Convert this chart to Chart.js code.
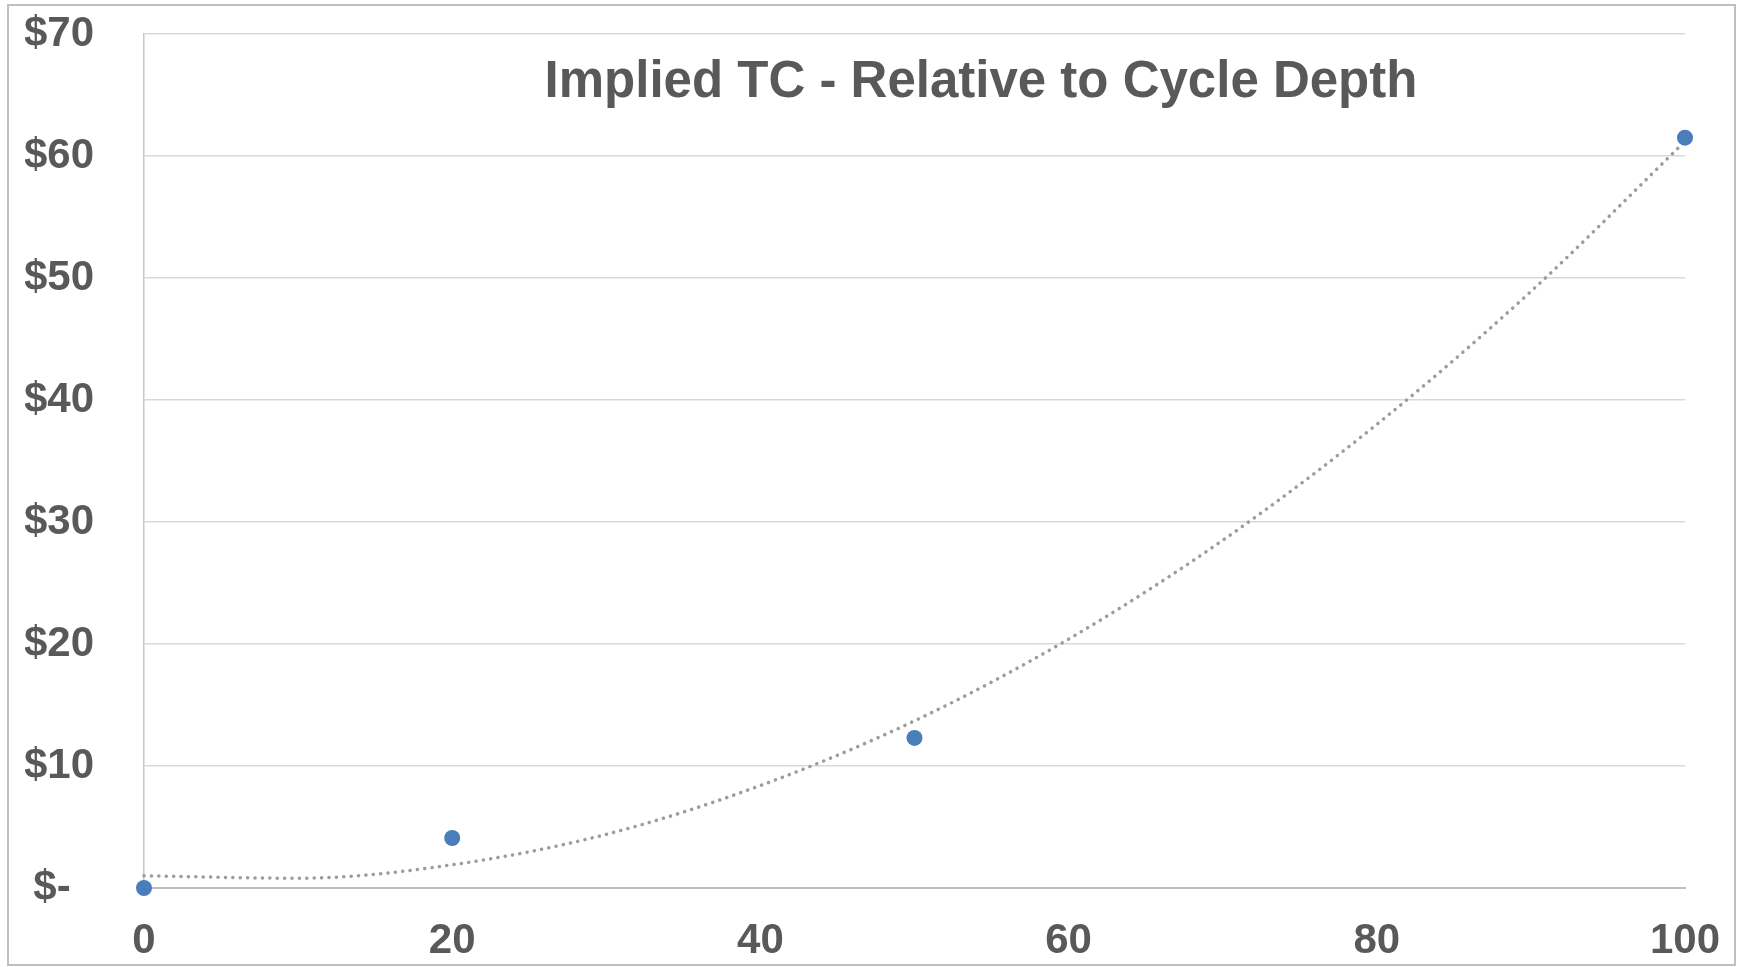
<!DOCTYPE html>
<html>
<head>
<meta charset="utf-8">
<script src="https://cdn.jsdelivr.net/npm/chart.js@4/dist/chart.umd.min.js"></script>
<style>
  html, body { margin: 0; padding: 0; background: #ffffff; }
  canvas { display: block; }
</style>
</head>
<body>
<canvas id="myChart" width="1742" height="967"></canvas>
<script>
// Datos
var profundidad = [0, 20, 50, 100];          // cycle depth
var tcImplicito = [0, 4.1, 12.3, 61.5];      // implied TC ($)

// linea de tendencia (punteada)
var tendenciaX = [0, 10, 20, 30, 40, 50, 60, 70, 80, 90, 100];
var tendenciaY = [1.0, 0.8, 1.9, 4.4, 8.4, 13.7, 20.4, 28.5, 38.0, 48.9, 61.2];

var ticksX = [0, 20, 40, 60, 80, 100];
var ticksY = [0, 10, 20, 30, 40, 50, 60, 70];

var titulo = 'Implied TC - Relative to Cycle Depth';
var gris = '#595959';
var fuente = "'Liberation Sans', Arial, sans-serif";

var puntos = profundidad.map((x, i) => ({ x: x, y: tcImplicito[i] }));
var tendencia = tendenciaX.map((x, i) => ({ x: x, y: tendenciaY[i] }));

// marco exterior y titulo dentro del area del grafico
var marcoYTitulo = {
    id: 'marcoYTitulo',
    beforeDraw(chart) {
        var ctx = chart.ctx;
        ctx.save();
        ctx.fillStyle = '#ffffff';
        ctx.fillRect(0, 0, chart.width, chart.height);
        ctx.strokeStyle = '#bfbfbf';
        ctx.lineWidth = 2;
        ctx.strokeRect(8, 5, 1727, 960);
        ctx.restore();
    },
    afterDraw(chart) {
        var ctx = chart.ctx;
        ctx.save();
        ctx.fillStyle = gris;
        ctx.font = 'bold 51px ' + fuente;
        ctx.textAlign = 'center';
        ctx.textBaseline = 'alphabetic';
        ctx.fillText(titulo, 981, 97);
        ctx.restore();
    }
};

var ctx = document.getElementById('myChart').getContext('2d');
var myChart = new Chart(ctx, {
    type: 'scatter',
    data: {
        datasets: [{
            label: 'Implied TC',
            data: puntos,
            backgroundColor: '#4a7ebb',
            borderColor: '#4a7ebb',
            pointRadius: 8,
            pointBorderWidth: 0,
            clip: false
        }, {
            label: 'Tendencia',
            data: tendencia,
            showLine: true,
            borderColor: '#9c9c9c',
            borderWidth: 3.5,
            borderDash: [0.1, 7.3],
            borderCapStyle: 'round',
            cubicInterpolationMode: 'monotone',
            pointRadius: 0,
            fill: false,
            clip: false
        }]
    },
    options: {
        responsive: false,
        animation: false,
        layout: { padding: { left: 25, top: 34, right: 57, bottom: 9 } },
        plugins: {
            legend: { display: false },
            tooltip: { enabled: false }
        },
        scales: {
            x: {
                type: 'linear',
                min: 0,
                max: 100,
                afterBuildTicks: s => { s.ticks = ticksX.map(v => ({ value: v })); },
                afterFit: s => { s.height = 70; s.paddingLeft = 0; s.paddingRight = 0; },
                grid: { display: false, drawTicks: false },
                border: { color: '#bfbfbf', width: 2 },
                ticks: {
                    padding: 28,
                    color: gris,
                    font: { family: fuente, size: 42, weight: 'bold' }
                }
            },
            y: {
                type: 'linear',
                min: 0,
                max: 70,
                afterBuildTicks: s => { s.ticks = ticksY.map(v => ({ value: v })); },
                afterFit: s => { s.width = 119; s.paddingTop = 0; s.paddingBottom = 0; },
                grid: { color: '#d9d9d9', lineWidth: 1.5, drawTicks: false },
                border: { color: '#c8c8c8', width: 1.5 },
                ticks: {
                    padding: 50,
                    color: gris,
                    font: { family: fuente, size: 42, weight: 'bold' },
                    callback: v => v === 0 ? '$-  ' : '$' + v
                }
            }
        }
    },
    plugins: [marcoYTitulo]
});
</script>
</body>
</html>
